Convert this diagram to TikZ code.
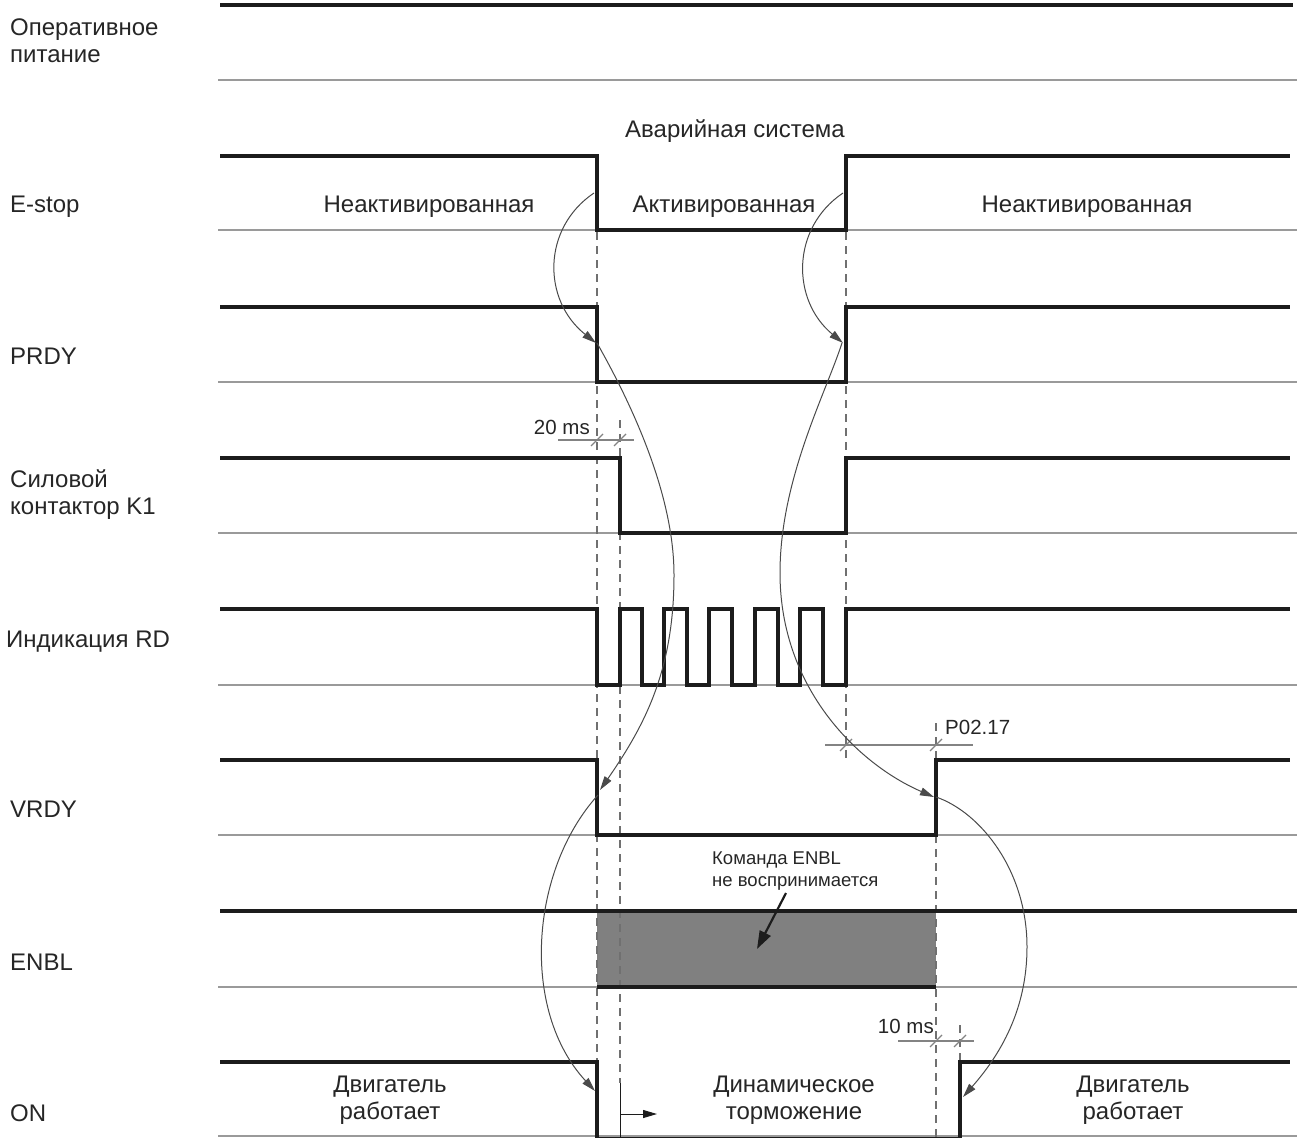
\documentclass[tikz,border=0pt]{standalone}
\usepackage{fontspec}
\setmainfont{Liberation Sans}
\usetikzlibrary{arrows.meta}
\definecolor{sigc}{HTML}{1C1C1C}
\definecolor{basec}{HTML}{9A9A9A}
\definecolor{curvec}{HTML}{4A4A4A}
\definecolor{dashc}{HTML}{707070}
\definecolor{fillc}{HTML}{808080}
\begin{document}
\begin{tikzpicture}[x=1pt,y=-1pt,
  sig/.style={line width=4.5pt, draw=sigc},
  baseln/.style={line width=1.4pt, draw=basec},
  guide/.style={line width=1.2pt, draw=dashc, dash pattern=on 8pt off 6pt},
  dimln/.style={line width=1.2pt, draw=basec!85!black},
  cause/.style={line width=1pt, draw=curvec, -{Triangle[length=14pt,width=8pt]}},
  lbl/.style={font=\fontsize{24}{27}\selectfont, inner sep=0pt, text=black!85},
  dimlbl/.style={font=\fontsize{20.5}{24}\selectfont, inner sep=0pt, text=black!85},
  small/.style={font=\fontsize{18.5}{22}\selectfont, inner sep=0pt, text=black!85, align=left}
]
\useasboundingbox (0,0) rectangle (1297,1137);

% ---------- row labels ----------
\node[lbl, anchor=west, align=left] (lpow) at (10,41) {Оперативное\\питание};
\node[lbl, anchor=base west] (lestop) at (10,212) {E-stop};
\node[lbl, anchor=base west] (lprdy) at (10,364) {PRDY};
\node[lbl, anchor=west, align=left] (lk1) at (10,495) {Силовой\\контактор K1};
\node[lbl, anchor=base west] (lrd) at (6,647) {Индикация RD};
\node[lbl, anchor=base west] (lvrdy) at (10,817) {VRDY};
\node[lbl, anchor=base west] (lenbl) at (10,970) {ENBL};
\node[lbl, anchor=base west] (lon) at (10,1121) {ON};

% ---------- state labels ----------
\node[lbl, anchor=base] (tavar) at (735,137) {Аварийная система};
\node[lbl, anchor=base] (tneak1) at (429,212) {Неактивированная};
\node[lbl, anchor=base] (takt) at (724,212) {Активированная};
\node[lbl, anchor=base] (tneak2) at (1087,212) {Неактивированная};
\node[lbl, align=center] (tdv1) at (390,1100) {Двигатель\\работает};
\node[lbl, align=center] (tdin) at (794,1100) {Динамическое\\торможение};
\node[lbl, align=center] (tdv2) at (1133,1100) {Двигатель\\работает};
\node[small, anchor=west] (tcmd) at (712,871) {Команда ENBL\\не воспринимается};

% ---------- baselines ----------
\draw[baseln] (218,80) -- (1297,80);
\draw[baseln] (218,230) -- (1297,230);
\draw[baseln] (218,382) -- (1297,382);
\draw[baseln] (218,533) -- (1297,533);
\draw[baseln] (218,685) -- (1297,685);
\draw[baseln] (218,835) -- (1297,835);
\draw[baseln] (218,987) -- (1297,987);
\draw[baseln] (218,1136) -- (1297,1136);

% ---------- ENBL grey zone ----------
\fill[fillc] (597,911) rectangle (936,987);

% ---------- guide (dashed) lines ----------
\draw[guide] (597,232) -- (597,1062);
\draw[guide] (620,420) -- (620,1083);
\draw[guide] (846,232) -- (846,758);
\draw[guide] (936,723) -- (936,1137);
\draw[guide] (960,1025) -- (960,1062);

% ---------- signals ----------
\draw[sig] (220,5) -- (1293,5);
\draw[sig] (220,156) -| (597,230) -| (846,156) -- (1290,156);
\draw[sig] (220,307) -| (597,382) -| (846,307) -- (1290,307);
\draw[sig] (220,458) -| (620,533) -| (846,458) -- (1290,458);
\draw[sig] (220,609) -| (597,685) -| (620,609) -| (642,685) -| (664,609)
  -| (687,685) -| (709,609) -| (732,685) -| (755,609) -| (778,685)
  -| (800,609) -| (823,685) -| (846,609) -- (1290,609);
\draw[sig] (220,760) -| (597,835) -| (936,760) -- (1290,760);
\draw[sig] (220,911) -- (1297,911);
\draw[sig] (597,987) -- (936,987);
\draw[sig] (220,1062) -| (597,1139.5) -| (960,1062) -- (1290,1062);

% ---------- dimension lines ----------
\node[dimlbl, anchor=base east] (t20) at (590,434) {20 ms};
\draw[dimln] (558,440) -- (634,440);
\draw[dimln] (597,440) ++(-6,6) -- ++(12,-12);
\draw[dimln] (620,440) ++(-6,6) -- ++(12,-12);

\node[dimlbl, anchor=base west] (tp0217) at (945,734) {P02.17};
\draw[dimln] (825,745) -- (973,745);
\draw[dimln] (846,745) ++(-6,6) -- ++(12,-12);
\draw[dimln] (936,745) ++(-6,6) -- ++(12,-12);

\node[dimlbl, anchor=base east] (t10) at (934,1033) {10 ms};
\draw[dimln] (898,1041) -- (974,1041);
\draw[dimln] (936,1041) ++(-6,6) -- ++(12,-12);
\draw[dimln] (960,1041) ++(-6,6) -- ++(12,-12);

% ---------- braking start marker ----------
\coordinate (brA) at (620,1083);
\coordinate (brB) at (620,1137);
\coordinate (brC) at (620,1114);
\coordinate (brD) at (657,1114);
\draw[line width=1pt, draw=sigc] (brA) -- (brB);
\draw[line width=1pt, draw=sigc, -{Triangle[length=14pt,width=8pt]}] (brC) -- (brD);

% ---------- ENBL note arrow ----------
\coordinate (nA) at (786,893);
\coordinate (nB) at (757,949);
\draw[line width=2.2pt, draw=sigc, -{Triangle[length=18pt,width=12pt]}] (nA) -- (nB);

% ---------- cause/effect curves ----------
\coordinate (esF) at (594,193);
\coordinate (prF) at (596,343);
\coordinate (vrF) at (600,790);
\coordinate (onF) at (595,1091);
\coordinate (esR) at (843,193);
\coordinate (prR) at (843,343);
\coordinate (vrR) at (934,797);
\coordinate (onR) at (963,1097);

\draw[cause] (esF) .. controls (542,228) and (542,300) .. (prF);
\draw[cause] (597,343) .. controls (627,396) and (674,490) .. (674,575)
  .. controls (674,670) and (645,725) .. (vrF);
\draw[cause] (598,795) .. controls (530,870) and (520,1010) .. (onF);

\draw[cause] (esR) .. controls (791,228) and (791,300) .. (prR);
\draw[cause] (842,343) .. controls (825,395) and (780,480) .. (780,573)
  .. controls (780,690) and (860,765) .. (vrR);
\draw[cause] (936,797) .. controls (980,812) and (1027,870) .. (1027,947)
  .. controls (1027,1010) and (1000,1055) .. (onR);

\end{tikzpicture}
\end{document}
